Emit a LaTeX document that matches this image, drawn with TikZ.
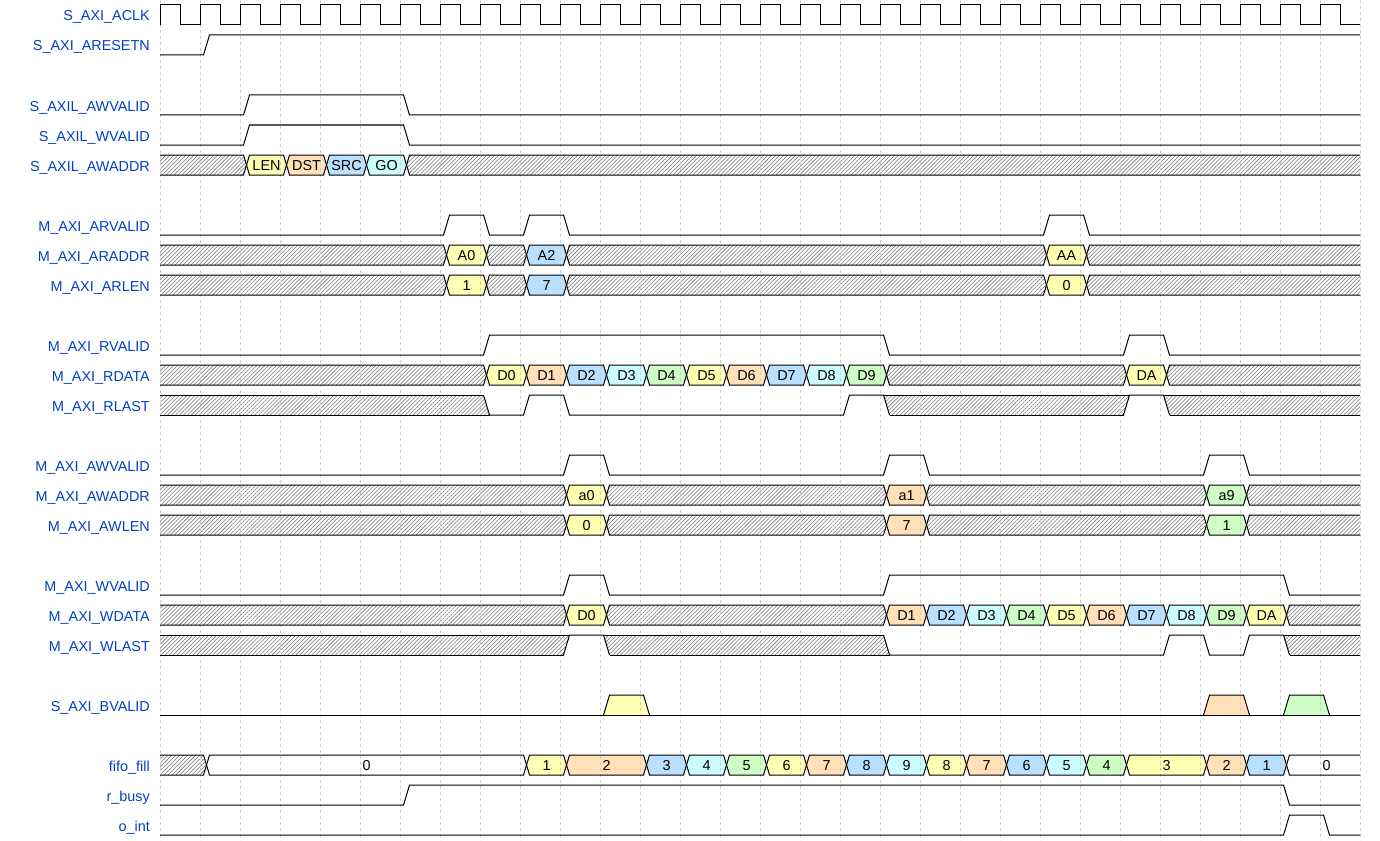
\documentclass[tikz,border=0pt]{standalone}
\usepackage{fontspec}
\setmainfont{Liberation Sans}
\usetikzlibrary{patterns.meta}
\definecolor{lbl}{HTML}{0041C4}
\definecolor{cY}{HTML}{FFFFB4}
\definecolor{cO}{HTML}{FFE0B9}
\definecolor{cB}{HTML}{B9E0FF}
\definecolor{cC}{HTML}{CCFDFE}
\definecolor{cG}{HTML}{CDFDC5}
\definecolor{cW}{HTML}{FFFFFF}
\pgfdeclarelayer{bglayer}
\pgfdeclarelayer{fills}
\pgfdeclarelayer{gridlayer}
\pgfsetlayers{bglayer,fills,gridlayer,main}
\tikzset{
  sig/.style={line width=1pt, line join=miter},
  hatch/.style={pattern={Lines[angle=45,distance=2.8pt,line width=0.55pt]}, pattern color=black!55},
  val/.style={anchor=base, inner sep=0pt, font=\fontsize{14.4}{16}\selectfont},
  lane/.style={anchor=base east, inner sep=0pt, text=lbl, font=\fontsize{14.4}{16}\selectfont},
  gridline/.style={black!20, line width=0.8pt, dash pattern=on 3pt off 3pt},
}
% generic value segment: y, start cycle, end cycle, fill options
\newcommand\segshape[4]{%
  \pgfmathsetmacro\xs{160+40*#2}%
  \pgfmathsetmacro\xe{160+40*#3}%
  \ifnum#2=0
    \coordinate (TL) at (160,#1-10);
    \coordinate (BL) at (160,#1+10);
    \coordinate (LVt) at (TL);
    \coordinate (LVb) at (BL);
  \else
    \coordinate (TL) at (\xs+9.5,#1-10);
    \coordinate (BL) at (\xs+9.5,#1+10);
    \coordinate (LVt) at (\xs+6.5,#1);
    \coordinate (LVb) at (LVt);
  \fi
  \ifnum#3=30
    \coordinate (TR) at (1360,#1-10);
    \coordinate (BR) at (1360,#1+10);
    \coordinate (RVt) at (TR);
    \coordinate (RVb) at (BR);
  \else
    \coordinate (TR) at (\xe+3.5,#1-10);
    \coordinate (BR) at (\xe+3.5,#1+10);
    \coordinate (RVt) at (\xe+6.5,#1);
    \coordinate (RVb) at (RVt);
  \fi
  \begin{pgfonlayer}{fills}
    \fill[#4] (LVt) -- (TL) -- (TR) -- (RVt) -- (RVb) -- (BR) -- (BL) -- (LVb) -- cycle;
  \end{pgfonlayer}
  \draw[sig] (LVt) -- (TL) -- (TR) -- (RVt);
  \draw[sig] (LVb) -- (BL) -- (BR) -- (RVb);
}
\newcommand\dseg[6]{%
  \segshape{#1}{#2}{#3}{fill=#4}%
  \node[val] (#6) at ({(\xs+\xe)/2+6.5},#1+5.6) {#5};%
}
\newcommand\xseg[3]{\segshape{#1}{#2}{#3}{hatch}}
% hatched quad with level-type edges: y, TLx, BLx, TRx, BRx
\newcommand\hquad[5]{%
  \begin{pgfonlayer}{fills}
    \fill[hatch] (#2,#1-10) -- (#4,#1-10) -- (#5,#1+10) -- (#3,#1+10) -- cycle;
  \end{pgfonlayer}
  \draw[sig] (#2,#1-10) -- (#4,#1-10);
  \draw[sig] (#3,#1+10) -- (#5,#1+10);
}
% binary signal, low with high pulses a/b
\newcommand\pulses[2]{%
  \draw[sig] (160,#1+10) \foreach \pa/\pb in {#2} { -- ({160+40*\pa+3.5},#1+10) -- ({160+40*\pa+9.5},#1-10) -- ({160+40*\pb+3.5},#1-10) -- ({160+40*\pb+9.5},#1+10) } -- (1360,#1+10);
}
\newcommand\bpulse[3]{%
  \begin{pgfonlayer}{fills}
    \fill[#3] ({160+40*#2+3.5},#1+10) -- ({160+40*#2+9.5},#1-10) -- ({160+40*#2+43.5},#1-10) -- ({160+40*#2+49.5},#1+10) -- cycle;
  \end{pgfonlayer}
  \draw[sig] ({160+40*#2+3.5},#1+10) -- ({160+40*#2+9.5},#1-10) -- ({160+40*#2+43.5},#1-10) -- ({160+40*#2+49.5},#1+10);
}
\begin{document}
\begin{tikzpicture}[x=1pt,y=-1pt]
\useasboundingbox (0,0) rectangle (1380,840);
\begin{pgfonlayer}{bglayer}
  \fill[white] (0,0) rectangle (1380,840);
\end{pgfonlayer}
% grid
\begin{pgfonlayer}{gridlayer}
  \foreach \k in {0,...,30} \draw[gridline] ({160+40*\k},0) -- ({160+40*\k},840);
\end{pgfonlayer}
% lane labels
\foreach \yy/\nm/\tx in {15/l1/S\_AXI\_ACLK, 45/l2/S\_AXI\_ARESETN, 105/l3/S\_AXIL\_AWVALID, 135/l4/S\_AXIL\_WVALID, 165/l5/S\_AXIL\_AWADDR, 225/l6/M\_AXI\_ARVALID, 255/l7/M\_AXI\_ARADDR, 285/l8/M\_AXI\_ARLEN, 345/l9/M\_AXI\_RVALID, 375/l10/M\_AXI\_RDATA, 405/l11/M\_AXI\_RLAST, 465/l12/M\_AXI\_AWVALID, 495/l13/M\_AXI\_AWADDR, 525/l14/M\_AXI\_AWLEN, 585/l15/M\_AXI\_WVALID, 615/l16/M\_AXI\_WDATA, 645/l17/M\_AXI\_WLAST, 705/l18/S\_AXI\_BVALID, 765/l19/fifo\_fill, 795/l20/r\_busy, 825/l21/o\_int}
  \node[lane] (\nm) at (150,\yy+6) {\tx};
% clock
\draw[sig] (160,25) \foreach \k in {0,...,29} { -- ({160+40*\k},25) -- ({160+40*\k},5) -- ({180+40*\k},5) -- ({180+40*\k},25) } -- (1360,25);
% reset
\draw[sig] (160,55) -- (203.5,55) -- (209.5,35) -- (1360,35);
% AXI-lite
\pulses{105}{2/6}
\pulses{135}{2/6}
\xseg{165}{0}{2}
\dseg{165}{2}{3}{cY}{LEN}{w1}
\dseg{165}{3}{4}{cO}{DST}{w2}
\dseg{165}{4}{5}{cB}{SRC}{w3}
\dseg{165}{5}{6}{cC}{GO}{w4}
\xseg{165}{6}{30}
% read address
\pulses{225}{7/8,9/10,22/23}
\xseg{255}{0}{7}
\dseg{255}{7}{8}{cY}{A0}{ra0}
\xseg{255}{8}{9}
\dseg{255}{9}{10}{cB}{A2}{ra2}
\xseg{255}{10}{22}
\dseg{255}{22}{23}{cY}{AA}{raa}
\xseg{255}{23}{30}
\xseg{285}{0}{7}
\dseg{285}{7}{8}{cY}{1}{rl1}
\xseg{285}{8}{9}
\dseg{285}{9}{10}{cB}{7}{rl2}
\xseg{285}{10}{22}
\dseg{285}{22}{23}{cY}{0}{rl3}
\xseg{285}{23}{30}
% read data
\pulses{345}{8/18,24/25}
\xseg{375}{0}{8}
\foreach \sa/\sb/\sc/\sd in {8/9/cY/D0, 9/10/cO/D1, 10/11/cB/D2, 11/12/cC/D3, 12/13/cG/D4, 13/14/cY/D5, 14/15/cO/D6, 15/16/cB/D7, 16/17/cC/D8, 17/18/cG/D9}
  {\dseg{375}{\sa}{\sb}{\sc}{\sd}{rd\sa}}
\xseg{375}{18}{24}
\dseg{375}{24}{25}{cY}{DA}{rdA}
\xseg{375}{25}{30}
% rlast
\hquad{405}{160}{160}{483.5}{489.5}
\hquad{405}{883.5}{889.5}{1129.5}{1123.5}
\hquad{405}{1163.5}{1169.5}{1360}{1360}
\draw[sig] (483.5,395) -- (489.5,415) -- (523.5,415) -- (529.5,395) -- (563.5,395) -- (569.5,415) -- (843.5,415) -- (849.5,395) -- (883.5,395) -- (889.5,415);
\draw[sig] (1123.5,415) -- (1129.5,395) -- (1163.5,395) -- (1169.5,415);
% write address
\pulses{465}{10/11,18/19,26/27}
\xseg{495}{0}{10}
\dseg{495}{10}{11}{cY}{a0}{wa0}
\xseg{495}{11}{18}
\dseg{495}{18}{19}{cO}{a1}{wa1}
\xseg{495}{19}{26}
\dseg{495}{26}{27}{cG}{a9}{wa9}
\xseg{495}{27}{30}
\xseg{525}{0}{10}
\dseg{525}{10}{11}{cY}{0}{wl0}
\xseg{525}{11}{18}
\dseg{525}{18}{19}{cO}{7}{wl1}
\xseg{525}{19}{26}
\dseg{525}{26}{27}{cG}{1}{wl2}
\xseg{525}{27}{30}
% write data
\pulses{585}{10/11,18/28}
\xseg{615}{0}{10}
\dseg{615}{10}{11}{cY}{D0}{wd0}
\xseg{615}{11}{18}
\foreach \sa/\sb/\sc/\sd in {18/19/cO/D1, 19/20/cB/D2, 20/21/cC/D3, 21/22/cG/D4, 22/23/cY/D5, 23/24/cO/D6, 24/25/cB/D7, 25/26/cC/D8, 26/27/cG/D9, 27/28/cY/DA}
  {\dseg{615}{\sa}{\sb}{\sc}{\sd}{wd\sa}}
\xseg{615}{28}{30}
% wlast
\hquad{645}{160}{160}{569.5}{563.5}
\hquad{645}{603.5}{609.5}{883.5}{889.5}
\hquad{645}{1283.5}{1289.5}{1360}{1360}
\draw[sig] (563.5,655) -- (569.5,635) -- (603.5,635) -- (609.5,655);
\draw[sig] (883.5,635) -- (889.5,655) -- (1163.5,655) -- (1169.5,635) -- (1203.5,635) -- (1209.5,655) -- (1243.5,655) -- (1249.5,635) -- (1283.5,635) -- (1289.5,655);
% bvalid
\draw[sig] (160,715) -- (1360,715);
\bpulse{705}{11}{cY}
\bpulse{705}{26}{cO}
\bpulse{705}{28}{cG}
% fifo fill
\xseg{765}{0}{1}
\foreach \sa/\sb/\sc/\sd in {1/9/cW/0, 9/10/cY/1, 10/12/cO/2, 12/13/cB/3, 13/14/cC/4, 14/15/cG/5, 15/16/cY/6, 16/17/cO/7, 17/18/cB/8, 18/19/cC/9, 19/20/cY/8, 20/21/cO/7, 21/22/cB/6, 22/23/cC/5, 23/24/cG/4, 24/26/cY/3, 26/27/cO/2, 27/28/cB/1, 28/30/cW/0}
  {\dseg{765}{\sa}{\sb}{\sc}{\sd}{ff\sa}}
% r_busy, o_int
\pulses{795}{6/28}
\pulses{825}{28/29}
\end{tikzpicture}
\end{document}
